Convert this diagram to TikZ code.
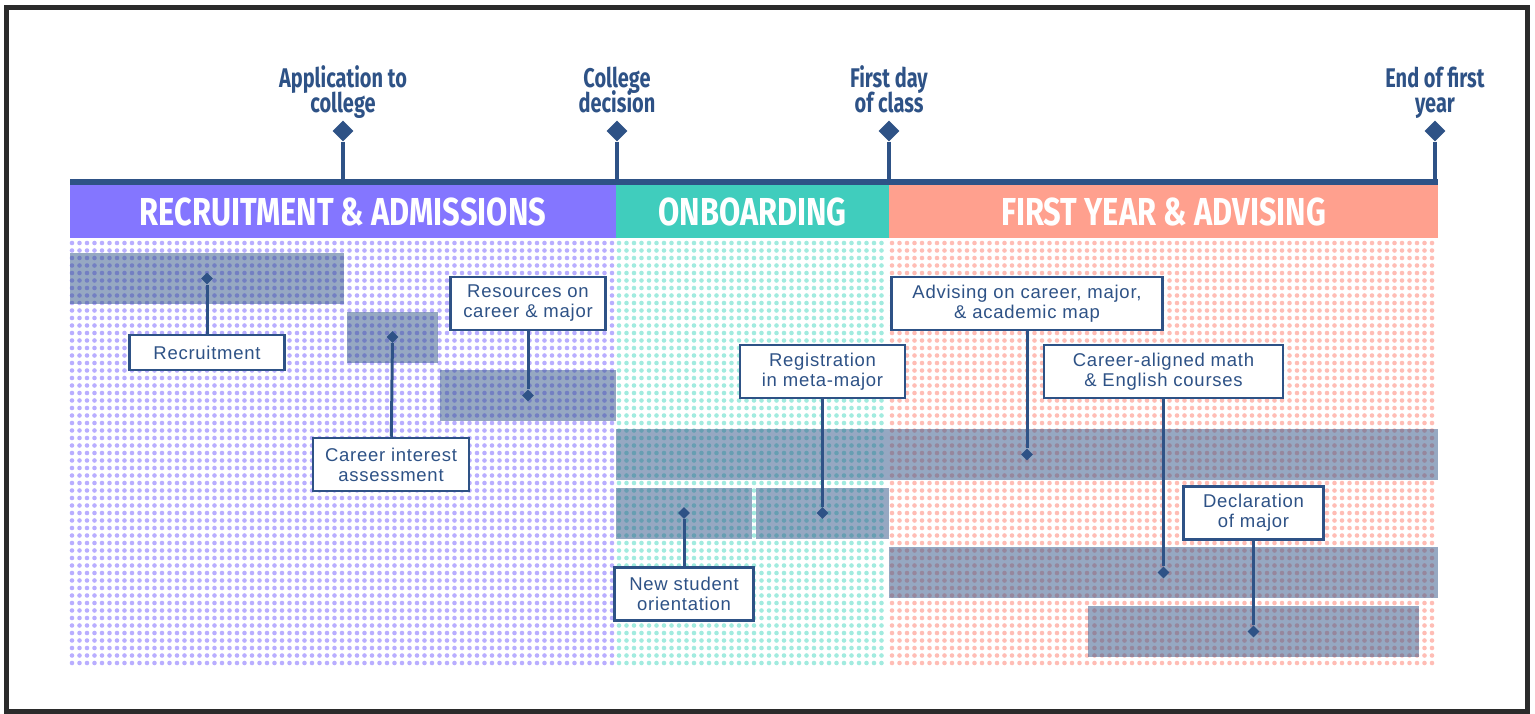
\documentclass[tikz,border=0pt]{standalone}
\usepackage{fontspec}
\setmainfont{Liberation Sans}[LetterSpace=4]
\newfontfamily\condfont{Fira Sans}[FakeStretch=0.79]
\newfontfamily\milefont{Fira Sans}[FakeStretch=0.74]
\newcommand\milelabelfont{\milefont\bfseries\fontsize{27}{24.5}\selectfont\lineskiplimit-20pt\relax}
\usetikzlibrary{positioning, shapes.geometric}
\definecolor{navy}{HTML}{2E5286}
\definecolor{framegray}{HTML}{2B2B2B}
\definecolor{purplehd}{HTML}{8476FF}
\definecolor{tealhd}{HTML}{40CDBD}
\definecolor{salmonhd}{HTML}{FFA08E}
\definecolor{purpledot}{HTML}{B9AEFF}
\definecolor{tealdot}{HTML}{A2EBDF}
\definecolor{salmondot}{HTML}{FFBDB5}

\begin{document}
\begin{tikzpicture}[x=1pt, y=-1pt, inner sep=0pt,
      phase/.style={minimum height=53pt, text=white,
        font=\condfont\bfseries\fontsize{39}{39}\selectfont},
      milestone/.style={diamond, fill=navy, minimum size=21pt},
      mlabel/.style={align=center, text=navy, text depth=6pt, font=\milelabelfont},
      bar/.style={fill=navy, fill opacity=0.5, minimum height=51pt},
      barmark/.style={diamond, fill=navy, minimum size=12pt},
      task/.style={draw=navy, line width=2.5pt, fill=white, align=center,
        text=navy, inner xsep=9pt, inner ysep=6pt, minimum height=35pt,
        font=\fontsize{18.5}{20}\selectfont},
      stem/.style={navy, line width=3pt},
      dots/.style={line width=4.6pt, line cap=round, dash pattern=on 0pt off 7.5pt}]
  \useasboundingbox (0,0) rectangle (1535,713);
  \draw[framegray, line width=5pt] (6.5,7.5) rectangle (1527.5,711.5);

  % phases
  \node[phase, fill=purplehd, minimum width=546pt] (recruit) at (343,211.5) {RECRUITMENT \& ADMISSIONS};
  \node[phase, fill=tealhd, minimum width=273pt] (onboard) at (752.5,211.5) {ONBOARDING};
  \node[phase, fill=salmonhd, minimum width=549pt] (firstyear) at (1163.5,211.5) {FIRST YEAR \& ADVISING};
  \foreach \r in {0,...,56} {
    \draw[dots, purpledot] (72,243+7.5*\r) -- (614,243+7.5*\r);
    \draw[dots, tealdot] (619,243+7.5*\r) -- (887,243+7.5*\r);
    \draw[dots, salmondot] (892,243+7.5*\r) -- (1436,243+7.5*\r);
  }

  % timeline
  \coordinate (tl-start) at (70,182);
  \coordinate (tl-end) at (1438,182);
  \draw[navy, line width=6pt] (tl-start) -- (tl-end);
  \node[milestone] (apply) at (343,131) {};
  \node[milestone] (decide) at (617,131) {};
  \node[milestone] (firstday) at (889,131) {};
  \node[milestone] (endyear) at (1435,131) {};
  \foreach \m in {apply, decide, firstday, endyear}
    \draw[stem, line width=4pt] (\m) -- (\m |- tl-start);
  \node[mlabel, above=2pt of apply] (apply-l) {Application to\\college};
  \node[mlabel, above=2pt of decide] (decide-l) {College\\decision};
  \node[mlabel, above=2pt of firstday] (firstday-l) {First day\\of class};
  \node[mlabel, above=2pt of endyear] (endyear-l) {End of first\\year};

  % bars
  \node[bar, minimum width=274pt] (recruit-b) at (207,278.5) {};
  \node[bar, minimum width=91pt] (interest-b) at (392.5,337) {};
  \node[bar, minimum width=176pt] (resource-b) at (528,395.5) {};
  \node[bar, minimum width=822pt] (advise-b) at (1027,454.5) {};
  \node[bar, minimum width=136pt] (orient-b) at (684,513) {};
  \node[bar, minimum width=133pt] (register-b) at (822.5,513) {};
  \node[bar, minimum width=549pt] (courses-b) at (1163.5,572.5) {};
  \node[bar, minimum width=331pt] (declare-b) at (1253.5,631.5) {};

  % tasks
  \node[task, minimum width=155pt] (recruit-t) at (207,352.5) {Recruitment};
  \node[task, minimum width=156pt, minimum height=53pt] (interest-t) at (391,464.5) {Career interest\\assessment};
  \node[task, minimum width=155pt, minimum height=53pt] (resource-t) at (528,303.5) {Resources on\\career \& major};
  \node[task, minimum width=271pt, minimum height=53pt] (advise-t) at (1027,303.5) {Advising on career, major,\\\& academic map};
  \node[task, minimum width=139pt, minimum height=53pt] (orient-t) at (684,594) {New student\\orientation};
  \node[task, minimum width=165pt, minimum height=53pt] (register-t) at (822.5,371.5) {Registration\\in meta-major};
  \node[task, minimum width=239pt, minimum height=53pt] (courses-t) at (1163.5,371.5) {Career-aligned math\\\& English courses};
  \node[task, minimum width=140pt, minimum height=53pt] (declare-t) at (1253.5,513) {Declaration\\of major};
  \foreach \t in {recruit, interest, resource, advise, orient, register, courses, declare} {
    \node[barmark] (\t-m) at (\t-b) {};
    \path[stem] (\t-t) edge (\t-m);
  }
\end{tikzpicture}
\end{document}
